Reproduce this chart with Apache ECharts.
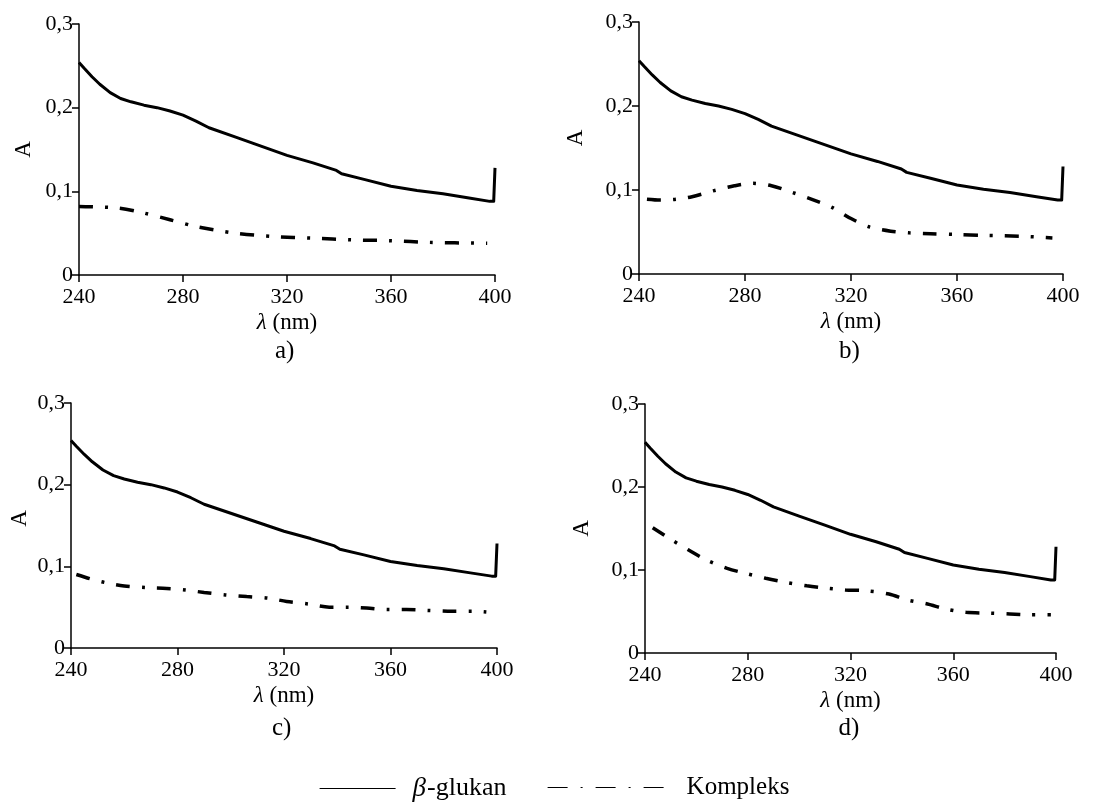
<!DOCTYPE html>
<html>
<head>
<meta charset="utf-8">
<script src="https://cdn.jsdelivr.net/npm/echarts@6/dist/echarts.min.js"></script>
<style>
html,body{margin:0;padding:0;background:#fff;}
#chart{width:1117px;height:803px;}
</style>
</head>
<body>
<div id="chart"></div>
<script>
// ---- data ----
const xTicks = [240, 280, 320, 360, 400];
const yTicks = [0, 0.1, 0.2, 0.3];
const panelLabels = ['a)', 'b)', 'c)', 'd)'];
const seriesNames = ['β-glukan', 'Kompleks'];

// β-glukan (same in every panel)
const betaX = [240, 242, 245, 248, 252, 256, 260, 265, 270, 275, 280, 285, 290, 300, 310, 320, 330, 339, 341, 350, 360, 370, 380, 390, 398, 399.5, 400];
const betaY = [0.254, 0.247, 0.237, 0.228, 0.218, 0.211, 0.207, 0.203, 0.200, 0.196, 0.191, 0.184, 0.176, 0.165, 0.154, 0.143, 0.134, 0.125, 0.121, 0.114, 0.106, 0.101, 0.097, 0.092, 0.088, 0.088, 0.128];

// Kompleks, panel a
const kompAX = [240, 255, 265, 275, 285, 300, 315, 330, 345, 360, 375, 397];
const kompAY = [0.082, 0.080, 0.074, 0.066, 0.058, 0.050, 0.046, 0.044, 0.042, 0.041, 0.039, 0.038];
// Kompleks, panel b
const kompBX = [243, 248, 254, 260, 268, 276, 283, 290, 298, 306, 313, 320, 327, 335, 342, 350, 360, 370, 384, 396];
const kompBY = [0.089, 0.088, 0.089, 0.092, 0.099, 0.105, 0.108, 0.105, 0.097, 0.088, 0.079, 0.066, 0.056, 0.051, 0.049, 0.048, 0.047, 0.046, 0.045, 0.043];
// Kompleks, panel c
const kompCX = [242, 247, 253, 260, 268, 276, 283, 290, 298, 306, 314, 321, 329, 337, 344, 351, 359, 366, 374, 383, 391, 396];
const kompCY = [0.090, 0.085, 0.080, 0.076, 0.074, 0.073, 0.071, 0.068, 0.065, 0.063, 0.061, 0.057, 0.054, 0.050, 0.050, 0.049, 0.047, 0.047, 0.046, 0.045, 0.045, 0.044];
// Kompleks, panel d
const kompDX = [243, 250, 257, 264, 272, 279, 287, 295, 303, 311, 318, 326, 335, 342, 350, 357, 365, 374, 382, 390, 398];
const kompDY = [0.151, 0.137, 0.124, 0.112, 0.102, 0.096, 0.090, 0.085, 0.081, 0.078, 0.076, 0.075, 0.071, 0.064, 0.059, 0.053, 0.049, 0.048, 0.047, 0.046, 0.046];

// ---- build ----
const FONT = '"Liberation Serif", "Times New Roman", serif';
const zip = (xs, ys) => xs.map((x, i) => [x, ys[i]]);
const kompData = [zip(kompAX, kompAY), zip(kompBX, kompBY), zip(kompCX, kompCY), zip(kompDX, kompDY)];
const betaData = zip(betaX, betaY);

const grids = [
  {left: 79, top: 24, width: 416, height: 251},
  {left: 639, top: 22, width: 424, height: 252},
  {left: 71, top: 403, width: 426, height: 245},
  {left: 645, top: 404, width: 411, height: 249}
];
const yNameGap = [44, 52, 40, 52];
const yNamePad = [[0,0,0,0],[0,0,0,20],[0,0,0,14],[0,0,0,0]];
const captionY = [353, 353, 730, 730];

const axisStyle = {lineStyle: {color: '#000', width: 1.5}};
const fmtY = v => v === 0 ? '0' : v.toFixed(1).replace('.', ',');

const xAxes = [], yAxes = [], series = [], graphics = [];
grids.forEach((g, i) => {
  xAxes.push({
    type: 'value', gridIndex: i, min: xTicks[0], max: xTicks[xTicks.length - 1],
    interval: xTicks[1] - xTicks[0],
    axisLine: axisStyle, axisTick: {length: 7, lineStyle: {color: '#000', width: 1.5}},
    splitLine: {show: false},
    axisLabel: {color: '#000', fontSize: 22, fontFamily: FONT, margin: 11},
    name: '{i|λ} (nm)', nameLocation: 'middle', nameGap: 36,
    nameTextStyle: {color: '#000', fontSize: 23, fontFamily: FONT,
      rich: {i: {fontStyle: 'italic', fontSize: 23, fontFamily: FONT, color: '#000'}}}
  });
  yAxes.push({
    type: 'value', gridIndex: i, min: yTicks[0], max: yTicks[yTicks.length - 1],
    interval: yTicks[1] - yTicks[0],
    axisLine: {show: true, lineStyle: {color: '#000', width: 1.5}},
    axisTick: {show: true, length: 7, lineStyle: {color: '#000', width: 1.5}},
    splitLine: {show: false},
    axisLabel: {color: '#000', fontSize: 22, fontFamily: FONT, margin: 6, formatter: fmtY},
    name: 'A', nameLocation: 'middle', nameRotate: 90, nameGap: yNameGap[i],
    nameTextStyle: {color: '#000', fontSize: 23, fontFamily: FONT, padding: yNamePad[i]}
  });
  series.push({
    name: seriesNames[0], type: 'line', xAxisIndex: i, yAxisIndex: i,
    data: betaData, symbol: 'none', symbolSize: 0,
    lineStyle: {color: '#000', width: 3, join: 'round'},
    itemStyle: {color: '#000'}, z: 3
  });
  series.push({
    name: seriesNames[1], type: 'line', xAxisIndex: i, yAxisIndex: i,
    data: kompData[i], symbol: 'none', symbolSize: 0, smooth: 0.3,
    lineStyle: {color: '#000', width: 3.5, type: [14, 12, 3, 12], cap: 'butt'},
    itemStyle: {color: '#000'}, z: 2
  });
  graphics.push({
    type: 'text', left: g.left + g.width / 2 - 12, top: captionY[i] - 14,
    style: {text: panelLabels[i], font: '25px ' + FONT, fill: '#000'}
  });
});

const chart = echarts.init(document.getElementById('chart'), null, {renderer: 'canvas'});
chart.setOption({
  backgroundColor: '#fff',
  animation: false,
  grid: grids,
  xAxis: xAxes,
  yAxis: yAxes,
  series: series,
  graphic: graphics,
  legend: [
    {
      data: [seriesNames[0]], left: 314, top: 770, itemWidth: 76, itemHeight: 14, itemGap: 0,
      lineStyle: {width: 1.2, type: 'solid'},
      itemStyle: {opacity: 0},
      formatter: () => '{i|β}{t|-glukan}',
      textStyle: {color: '#000', fontSize: 26, fontFamily: FONT, padding: [0, 0, 0, 12],
        rich: {i: {fontStyle: 'italic', fontSize: 27, fontFamily: FONT, color: '#000', padding: [0, 1, 0, 0]},
               t: {fontSize: 26, fontFamily: FONT, color: '#000'}}}
    },
    {
      data: [seriesNames[1]], left: 542, top: 770, itemWidth: 124, itemHeight: 14,
      lineStyle: {width: 1.2, type: [20, 13, 2, 13]},
      itemStyle: {opacity: 0},
      textStyle: {color: '#000', fontSize: 25, fontFamily: FONT, padding: [0, 0, 0, 10]}
    }
  ]
});
</script>
</body>
</html>
